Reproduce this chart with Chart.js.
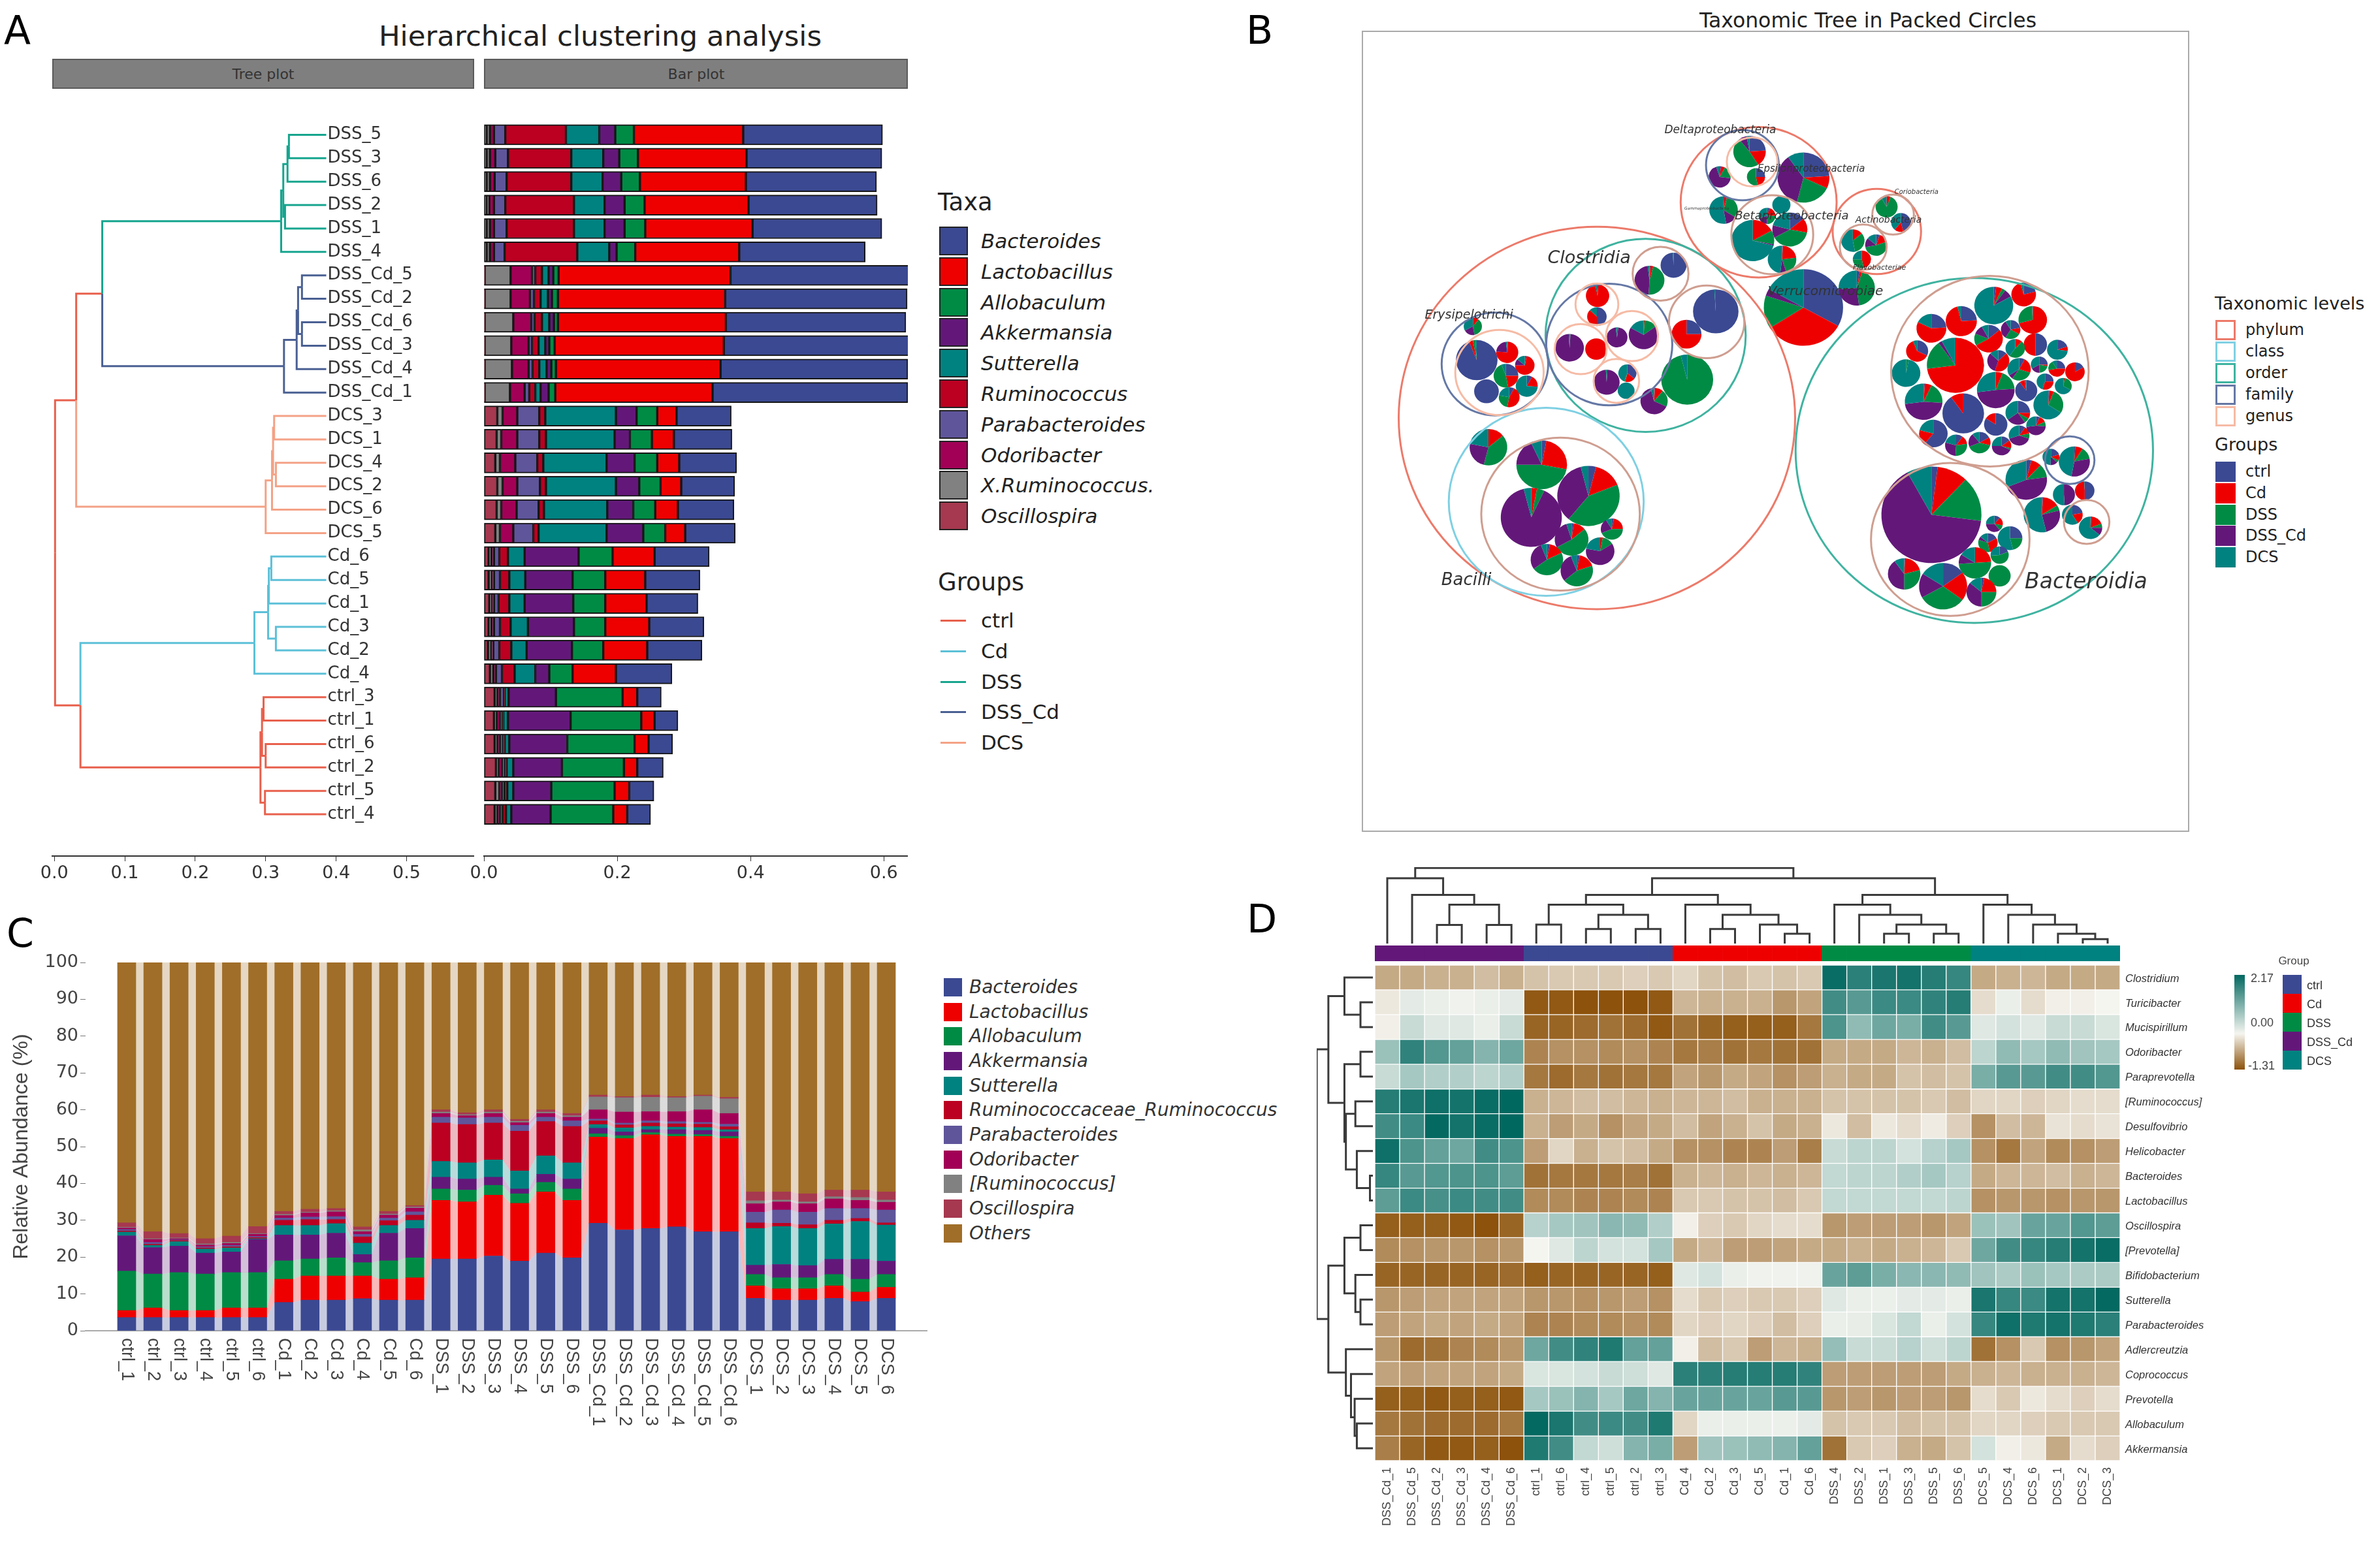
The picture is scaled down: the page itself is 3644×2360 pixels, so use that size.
<!DOCTYPE html>
<html>
<head>
<meta charset="utf-8">
<title>Microbiome figure</title>
<script src="https://cdn.jsdelivr.net/npm/chart.js@4"></script>
<style>
  html, body { margin: 0; padding: 0; background: #fff; }
  #page { position: relative; width: 3644px; height: 2360px; overflow: hidden; font-family: "DejaVu Sans", sans-serif; }
  canvas { position: absolute; }
  .txt { position: absolute; white-space: nowrap; line-height: 1; transform: translateY(-50%); color: #222; }
  .box { position: absolute; box-sizing: border-box; }
</style>
</head>
<body>
<div id="page"></div>
<script>
// ---------- panel A data ----------
const aRows = ["DSS_5","DSS_3","DSS_6","DSS_2","DSS_1","DSS_4","DSS_Cd_5","DSS_Cd_2","DSS_Cd_6","DSS_Cd_3","DSS_Cd_4","DSS_Cd_1",
  "DCS_3","DCS_1","DCS_4","DCS_2","DCS_6","DCS_5","Cd_6","Cd_5","Cd_1","Cd_3","Cd_2","Cd_4","ctrl_3","ctrl_1","ctrl_6","ctrl_2","ctrl_5","ctrl_4"];
// left to right stack order
const aStackTaxa = ["Oscillospira","X.Ruminococcus.","Odoribacter","Parabacteroides","Ruminococcus","Sutterella","Akkermansia","Allobaculum","Lactobacillus","Bacteroides"];
const aBarsDss = [
  [.004,.005,.006,.017,.091,.050,.024,.028,.164,.209],
  [.004,.005,.008,.019,.095,.048,.024,.028,.163,.203],
  [.004,.005,.007,.018,.097,.047,.028,.028,.159,.196],
  [.004,.004,.007,.017,.103,.046,.030,.030,.156,.193],
  [.004,.005,.006,.019,.101,.046,.030,.031,.161,.194],
  [.004,.005,.006,.016,.109,.048,.011,.028,.156,.189]];
const aBarsDssCd = [
  [.001,.039,.032,.005,.010,.010,.007,.008,.258,.268],
  [.001,.039,.029,.006,.010,.011,.006,.009,.251,.273],
  [.001,.043,.027,.005,.011,.011,.007,.006,.252,.270],
  [.001,.040,.026,.005,.010,.010,.006,.008,.254,.279],
  [.001,.041,.025,.006,.010,.011,.007,.007,.247,.281],
  [.001,.038,.022,.007,.009,.008,.012,.010,.236,.293]];
const aBarsDcs = [
  [.020,.008,.022,.033,.009,.106,.031,.031,.029,.082],
  [.019,.007,.024,.033,.010,.103,.023,.033,.033,.087],
  [.017,.007,.023,.033,.009,.095,.042,.034,.033,.086],
  [.020,.008,.022,.034,.009,.105,.035,.032,.031,.080],
  [.019,.007,.023,.033,.008,.095,.039,.033,.034,.084],
  [.017,.007,.020,.030,.008,.102,.055,.033,.030,.075]];
const aBarsCd = [
  [.007,.004,.004,.008,.013,.025,.081,.051,.063,.082],
  [.007,.005,.003,.009,.014,.024,.071,.049,.060,.082],
  [.008,.004,.003,.007,.016,.023,.073,.048,.062,.077],
  [.007,.004,.004,.009,.016,.026,.069,.047,.066,.082],
  [.006,.005,.003,.009,.018,.023,.068,.047,.066,.082],
  [.009,.005,.004,.009,.019,.031,.021,.035,.065,.084]];
const aBarsCtrl = [
  [.016,.004,.004,.006,.001,.006,.071,.100,.022,.036],
  [.015,.004,.005,.004,.001,.007,.094,.106,.020,.035],
  [.016,.004,.004,.005,.002,.007,.087,.101,.021,.036],
  [.018,.004,.005,.005,.002,.010,.073,.093,.020,.039],
  [.017,.006,.004,.004,.004,.009,.057,.095,.022,.037],
  [.016,.004,.004,.004,.005,.008,.059,.094,.021,.035]];
// tree nodes: height, top row, bottom row, top child height, bottom child height, top group, bottom group
const treeNodes = [
  [.333,0,1,.386,.386,2,2],[.331,.5,2,.333,.386,2,2],[.3275,3,4,.386,.386,2,2],[.325,1.25,3.5,.331,.3275,2,2],[.322,2.375,5,.325,.386,2,2],
  [.3515,6,7,.386,.386,3,3],[.3515,8,9,.386,.386,3,3],[.346,6.5,8.5,.3515,.3515,3,3],[.344,7.5,10,.346,.386,3,3],[.326,8.75,11,.344,.386,3,3],
  [.068,3.69,9.875,.322,.326,2,3],
  [.312,12,13,.386,.386,4,4],[.3145,14,15,.386,.386,4,4],[.3105,12.5,14.5,.312,.3145,4,4],[.309,13.5,16,.3105,.386,4,4],[.300,14.75,17,.309,.386,4,4],
  [.031,6.78,15.875,.068,.300,0,4],
  [.308,18,19,.386,.386,1,1],[.3045,18.5,20,.308,.386,1,1],[.3145,21,22,.386,.386,1,1],[.3035,19.25,21.5,.3045,.3145,1,1],[.284,20.375,23,.3035,.386,1,1],
  [.297,24,25,.386,.386,0,0],[.300,26,27,.386,.386,0,0],[.2948,24.5,26.5,.297,.300,0,0],[.299,28,29,.386,.386,0,0],[.2926,25.5,28.5,.2948,.299,0,0],
  [.037,21.69,27,.284,.2926,1,0],
  [.001,11.33,24.35,.031,.037,0,0]];
const treeTicks = [0,.1,.2,.3,.4,.5];
const barTicks = [0,.2,.4,.6];
const aTaxaLegend = ["Bacteroides","Lactobacillus","Allobaculum","Akkermansia","Sutterella","Ruminococcus","Parabacteroides","Odoribacter","X.Ruminococcus.","Oscillospira"];
const groupNames = ["ctrl","Cd","DSS","DSS_Cd","DCS"];

// ---------- panel B data ----------
const pieU = [877,914,926,973,1019,1033,877,923,965,999,1037,1071,855,838,865,976,980,1006,1012,1043,1070,1098,1023,1052,1080,1057,1010,976,880,1012,1038,915,951,985,1061,1097,1023,1047,1081,1113,1094,1122,974,998,964,982,982,944,835,895,954,
  177,224,251,222,254,192,227,171,480,443,363,362,320,361,393,434,377,409,407,450,545,500,501,195,277,349,261,323,385,367,285,331,
  597,607,551,680,557,646,624,659,602,647,680,762,808,830,756,792,770];
const pieV = [745,515,589,423,406,445,458,447,474,460,483,491,493,527,571,553,508,489,521,514,520,525,554,540,547,576,588,606,620,623,608,638,634,639,656,663,691,745,714,708,745,765,759,781,788,807,839,819,836,855,864,
  507,495,515,531,547,555,564,455,361,384,408,440,488,490,472,468,541,527,554,570,432,467,537,641,668,716,749,783,767,801,814,831,
  186,225,225,226,276,268,285,306,323,352,426,396,271,295,323,330,352];
const pieR = [77,44,32,30,19,22,23,24,22,15,18,16,17,22,29,29,17,15,18,13,13,15,17,13,13,23,19,18,22,16,15,17,17,15,13,24,32,28,17,15,16,18,13,19,15,14,17,25,25,37,23,
  32,17,15,19,17,19,16,14,20,23,18,15,22,17,16,23,20,14,13,21,35,23,40,29,39,48,47,26,17,22,25,25,
  25,14,17,40,22,14,13,27,33,22,61,28,17,15,18,17,14];
// percent of ctrl, Cd, DSS, DSS_Cd, DCS
const pieShares = [
  [2,10,15,65,8],[0,73,17,2,8],[90,10,0,0,0],[2,5,3,7,83],[21,75,0,0,4],[0,71,28,0,1],[24,58,0,0,18],[24,72,0,0,4],[14,53,14,11,8],[22,11,26,32,9],
  [50,50,0,0,0],[20,7,0,0,73],[32,62,0,0,6],[0,0,3,0,97],[1,6,19,47,27],[0,6,18,49,27],[13,42,0,32,13],[0,12,48,0,40],[8,22,30,6,34],[25,3,22,17,33],
  [25,47,19,0,9],[17,83,0,0,0],[90,8,0,0,2],[25,30,0,0,45],[1,2,30,0,67],[1,5,28,0,66],[25,8,7,25,35],[84,16,0,0,0],[61,18,0,0,21],[10,12,8,40,30],
  [6,12,8,47,27],[10,13,28,28,21],[17,12,40,20,11],[15,14,3,43,25],[20,12,5,14,49],[1,8,13,31,47],[4,8,11,46,31],[1,15,5,25,54],[0,0,0,49,51],[50,49,0,0,1],
  [22,19,0,0,59],[1,18,6,11,64],[11,17,11,36,25],[25,0,21,0,54],[17,30,33,6,14],[19,0,55,0,26],[0,0,100,0,0],[0,24,50,10,16],[1,20,29,40,10],[15,20,32,17,16],[3,22,25,36,14],
  [94,3,2,0,1],[1,75,0,22,2],[3,72,0,11,14],[25,22,47,0,6],[8,18,0,0,74],[100,0,0,0,0],[8,45,25,0,22],[1,10,36,20,33],[99,0,0,0,1],[1,3,47,47,2],
  [1,96,0,0,3],[50,37,0,0,13],[0,0,1,98,1],[0,100,0,0,0],[0,0,2,96,2],[0,1,14,68,17],[0,0,1,98,1],[36,18,2,0,44],[0,0,0,0,100],[1,10,21,64,4],[99,0,0,0,1],[25,75,0,0,0],[0,0,96,0,4],
  [0,14,40,24,22],[3,25,47,18,7],[4,15,42,35,4],[0,3,4,89,4],[2,12,53,28,5],[3,22,44,22,9],[0,3,13,62,22],[3,15,47,29,6],[3,17,44,30,6],
  [24,17,48,8,3],[25,22,53,0,0],[2,6,19,68,5],[24,8,22,36,10],[1,3,30,13,53],[0,0,0,0,100],[5,20,25,20,30],[14,14,39,12,21],[0,17,11,1,71],[1,22,22,7,48],[33,33,14,3,17],[3,2,43,26,26],
  [0,6,86,0,8],[46,15,0,0,39],[0,14,33,0,53],[5,15,52,14,14],[0,47,28,0,25]];
const ringU = [362,437,284,306,205,212,381,362,337,416,392,460,531,943,967,906,1090,1116,611,586,601,632,793,818,772];
const ringV = [596,469,725,744,513,526,483,421,490,470,539,374,448,646,524,783,661,756,264,207,202,314,309,283,333];
const ringR = [305,154,150,122,82,68,97,33,40,40,35,43,58,275,152,122,38,35,120,56,39,63,68,32,36];
// 0 phylum, 1 class, 2 order, 3 family, 4 genus, 5 genus sitting on an order
const ringLevel = [0,2,1,5,3,4,3,4,4,4,4,5,5,2,5,5,3,5,0,3,4,5,0,5,5];
const taxonNames = ["Clostridia","Erysipelotrichi","Bacilli","Bacteroidia","Verrucomicrobiae","Deltaproteobacteria","Epsilonproteobacteria","Betaproteobacteria","Actinobacteria","Coriobacteria","Gammaproteobacteria","Flavobacteriae"];
const taxonU = [350,165,161,1115,714,552,692,662,811,854,531,797];
const taxonV = [351,438,846,850,402,153,213,286,292,249,274,365];
const levelNames = ["phylum","class","order","family","genus"];

// ---------- panel C data ----------
const cSamples = ["ctrl_1","ctrl_2","ctrl_3","ctrl_4","ctrl_5","ctrl_6","Cd_1","Cd_2","Cd_3","Cd_4","Cd_5","Cd_6","DSS_1","DSS_2","DSS_3","DSS_4","DSS_5","DSS_6",
  "DSS_Cd_1","DSS_Cd_2","DSS_Cd_3","DSS_Cd_4","DSS_Cd_5","DSS_Cd_6","DCS_1","DCS_2","DCS_3","DCS_4","DCS_5","DCS_6"];
const cTaxa = ["Bacteroides","Lactobacillus","Allobaculum","Akkermansia","Sutterella","Ruminococcaceae_Ruminococcus","Parabacteroides","Odoribacter","[Ruminococcus]","Oscillospira","Others"];
const cCtrl = [
  [3.6,1.9,10.7,9.6,1.0,.3,.4,.4,.2,1.2,70.7],
  [3.6,2.6,9.2,7.2,.6,.3,.5,.8,.2,1.9,73.1],
  [3.6,1.9,10.3,7.2,1.2,.3,.2,.3,.2,1.2,73.6],
  [3.6,1.9,9.9,5.7,1.1,.3,.3,.5,.3,1.4,75],
  [3.6,2.6,9.6,5.6,1.1,.3,.4,.5,.3,1.7,74.3],
  [3.6,2.6,9.6,9,.2,.3,.3,.6,.2,1.9,71.7]];
const cCd = [
  [7.7,6.3,5,7,2.6,1.4,.6,.7,.3,.8,67.6],
  [8.3,6.6,4.6,6.5,2.6,1.6,.7,1.1,.2,.8,67],
  [8.3,6.6,4.9,6.7,2.6,1.1,.8,1.3,.3,.6,66.8],
  [8.7,6.2,3.6,2.2,3.1,1.7,.7,.7,.5,.8,71.8],
  [8.3,5.7,5,7.5,2.1,1.3,.7,.8,.3,.7,67.6],
  [8.3,6.1,5.4,8,2.2,1.4,.9,1,.3,.4,66]];
const cDss = [
  [19.5,15.9,3.1,3.2,4.3,10.4,1.6,1,.4,.6,40],
  [19.5,15.5,3.2,3,4.4,10.4,1.8,.6,.3,.5,40.8],
  [20.3,16.5,2.7,2.2,4.7,10,1.6,1,.4,.6,40],
  [18.9,15.7,2.6,1.3,4.9,10.8,1.6,.7,.4,.5,42.6],
  [21.1,16.6,2.6,2.2,5,9.3,1.2,1,.4,.6,40],
  [19.8,15.6,3.1,2.7,4.4,9.9,1.5,1,.4,.6,41]];
const cDssCd = [
  [29.2,23.4,.9,1.5,1,1,.5,2.5,3.5,.5,36],
  [27.4,24.8,.8,1,1.1,.8,.5,3,3.9,.3,36.4],
  [27.8,25.4,.6,.8,.9,.9,.6,2.5,3.9,.6,36],
  [28.2,24.6,.6,1.2,.7,.9,.6,2.7,3.8,.3,36.4],
  [26.9,25.9,.5,1.1,.8,.9,.5,3.4,3.7,.3,36],
  [26.9,25.3,.6,1.2,.6,.8,.7,2.9,4,.4,36.6]];
const cDcs = [
  [8.8,3.4,3.1,2.5,10,1.5,2.9,2.3,.8,2.4,62.3],
  [8.3,3.1,3,3.6,10.3,.9,3.6,2.2,.5,2.2,62.3],
  [8.3,3.1,3,3.3,10.1,1,3.4,2.3,.5,2.2,62.8],
  [8.8,3.4,3.1,4.1,9.6,1,3.2,2.6,.6,1.8,61.8],
  [7.9,2.6,3.5,5.4,10.3,.8,2.7,2.2,.8,2,61.8],
  [8.8,3,3.5,3.6,9.8,.6,3.5,2.1,.6,2.2,62.3]];
const cTicks = [0,10,20,30,40,50,60,70,80,90,100];

// ---------- panel D data ----------
const dCols = ["DSS_Cd_1","DSS_Cd_5","DSS_Cd_2","DSS_Cd_3","DSS_Cd_4","DSS_Cd_6","ctrl_1","ctrl_6","ctrl_4","ctrl_5","ctrl_2","ctrl_3","Cd_4","Cd_2","Cd_3","Cd_5","Cd_1","Cd_6",
  "DSS_4","DSS_2","DSS_1","DSS_3","DSS_5","DSS_6","DCS_5","DCS_4","DCS_6","DCS_1","DCS_2","DCS_3"];
const dColGroup = [3,3,3,3,3,3,0,0,0,0,0,0,1,1,1,1,1,1,2,2,2,2,2,2,4,4,4,4,4,4];
const dRows = ["Clostridium","Turicibacter","Mucispirillum","Odoribacter","Paraprevotella","[Ruminococcus]","Desulfovibrio","Helicobacter","Bacteroides","Lactobacillus",
  "Oscillospira","[Prevotella]","Bifidobacterium","Sutterella","Parabacteroides","Adlercreutzia","Coprococcus","Prevotella","Allobaculum","Akkermansia"];
const heatTop = [
  [-.6,-.6,-.55,-.55,-.45,-.55,-.4,-.35,-.35,-.35,-.3,-.35,-.25,-.4,-.45,-.35,-.4,-.35,2.1,1.8,1.95,2.0,1.85,1.7,-.6,-.55,-.5,-.6,-.6,-.6],
  [-.1,.15,.1,.05,.1,.15,-1.25,-1.25,-1.3,-1.3,-1.3,-1.25,-.5,-.55,-.55,-.55,-.75,-.65,1.6,1.4,1.65,1.65,1.75,1.85,-.2,.1,-.2,-.05,-.05,0],
  [-.05,.4,.2,.2,.1,.4,-1.15,-1.15,-1.1,-1.05,-1.1,-1.25,-1.05,-1.15,-1.2,-1.2,-1.2,-1,1.5,.9,1.2,1.1,1.6,1.4,.2,.3,.2,.4,.4,.25],
  [.8,1.75,1.45,1.3,1,1.2,-.9,-.8,-.8,-.85,-.8,-.9,-1,-.95,-1.05,-1,-1.05,-1.05,-.6,-.6,-.6,-.5,-.55,-.45,.5,.9,.7,.9,.75,.7],
  [.4,.7,.6,.6,.5,.6,-1,-1.1,-1,-1.05,-1,-1,-.65,-.75,-.6,-.65,-.8,-.7,-.55,-.6,-.6,-.4,-.45,-.4,1.1,1.4,1.4,1.6,1.6,1.45],
  [1.85,1.95,2.05,2,2.1,2.17,-.55,-.5,-.45,-.45,-.5,-.55,-.5,-.5,-.45,-.55,-.55,-.55,-.4,-.4,-.4,-.4,-.35,-.45,-.25,-.25,-.3,-.25,-.2,-.2],
  [1.6,1.65,2.15,2,2.1,2.17,-.55,-.7,-.6,-.8,-.65,-.6,-.45,-.65,-.55,-.4,-.6,-.55,-.1,-.45,-.1,-.2,-.08,-.3,-.8,-.45,-.5,-.15,-.2,-.15],
  [2.05,1.5,1.3,1.2,1.6,1.5,-.7,-.25,-.55,-.4,-.45,-.6,-.8,-.8,-.9,-.9,-.7,-.95,.4,.5,.5,.3,.55,.7,-.8,-1,-.65,-.85,-.8,-.7],
  [1.7,1.4,1.45,1.5,1.5,1.35,-1.05,-1,-1,-1,-.95,-1.05,-.55,-.5,-.55,-.5,-.55,-.5,.45,.5,.5,.6,.7,.55,-.6,-.5,-.5,-.45,-.55,-.5],
  [1.35,1.65,1.55,1.65,1.6,1.6,-.85,-.85,-.9,-.9,-.85,-.9,-.35,-.35,-.4,-.4,-.45,-.35,.45,.45,.45,.45,.45,.5,-.8,-.75,-.75,-.8,-.75,-.75]];
const heatBottom = [
  [-1.2,-1.2,-1.2,-1.25,-1.3,-1.15,.55,.7,.75,.95,.9,.6,-.05,-.3,-.35,-.25,-.2,-.2,-.75,-.7,-.7,-.7,-.75,-.65,.8,.75,1.25,1.25,1.45,1.35],
  [-.85,-.8,-.75,-.75,-.8,-.75,0,.2,.5,.3,.3,.7,-.6,-.5,-.7,-.7,-.65,-.6,-.6,-.55,-.6,-.55,-.5,-.35,1.2,1.6,1.7,1.85,2,2.1],
  [-1.15,-1.15,-1.15,-1.15,-1.15,-1.1,-1.2,-1.15,-1.15,-1.15,-1.15,-1.2,.2,.3,.1,.05,.05,.05,1.25,1.35,1.1,.95,.95,.9,.75,.65,.8,.7,.65,.65],
  [-.75,-.7,-.65,-.65,-.65,-.65,-.75,-.75,-.8,-.75,-.7,-.8,-.2,-.35,-.3,-.35,-.35,-.3,.2,.1,.08,.15,.15,.1,1.95,1.7,1.65,2,2,2.15],
  [-.7,-.65,-.6,-.65,-.6,-.65,-.9,-.9,-.85,-.85,-.8,-.85,-.25,-.3,-.25,-.3,-.45,-.3,.1,.12,.25,.45,.1,.3,1.7,2.05,1.9,2,1.9,1.8],
  [-.75,-1.1,-1.05,-.9,-.85,-.75,1.2,1.6,1.75,1.9,1.3,1.3,-.05,-.45,-.35,-.7,-.5,-.55,.85,.4,.4,.55,.35,.5,-1.05,-.8,-.35,-.8,-.75,-.65],
  [-.65,-.7,-.65,-.65,-.65,-.6,.25,.25,.3,.4,.35,.2,1.8,1.8,1.85,1.85,1.85,1.75,-.7,-.7,-.7,-.7,-.7,-.6,-.55,-.5,-.55,-.55,-.55,-.5],
  [-1.2,-1.2,-1.25,-1.2,-1.2,-1.25,.7,.8,1,.7,1.2,1,1.25,1.25,1.25,1.25,1.4,1.4,-.75,-.7,-.75,-.7,-.7,-.75,-.2,-.35,-.1,-.2,-.3,-.2],
  [-1,-1.05,-1.1,-1.1,-1.1,-1,2.15,1.95,1.6,1.65,1.6,1.9,-.25,.1,.1,.1,.08,.15,-.4,-.35,-.35,-.45,-.4,-.4,-.25,-.25,-.3,-.35,-.35,-.35],
  [-.95,-1.15,-1.25,-1.25,-1.2,-1.3,1.9,1.6,.45,.35,1,1.1,-.7,.75,.8,.9,1,1.3,-1.05,-.35,-.3,-.55,-.6,-.4,.3,-.05,-.1,-.6,-.2,-.3]];
// merges: left pos, left height, right pos, right height, height
const colMerges = [
  [2.5,0,3.5,0,4.2],[4.5,0,5.5,0,4.2],[3,4.2,5,4.2,8.8],[1.5,0,4,8.8,11],[.5,0,2.75,11,14.8],
  [6.5,0,7.5,0,4.3],[8.5,0,9.5,0,3.3],[10.5,0,11.5,0,3.3],[9,3.3,11,3.3,6.5],[7,4.3,10,6.5,8.8],
  [13.5,0,14.5,0,3.3],[16.5,0,17.5,0,2.2],[15.5,0,17,2.2,4.3],[14,3.3,16.25,4.3,6.5],[12.5,0,15.125,6.5,8.8],[8.5,8.8,13.81,8.8,11],
  [20.5,0,21.5,0,2.2],[22.5,0,23.5,0,2.2],[21,2.2,23,2.2,4.3],[19.5,0,22,4.3,6.5],[18.5,0,20.75,6.5,8.8],
  [28.5,0,29.5,0,1],[27.5,0,29,1,2.2],[26.5,0,28.25,2.2,4.3],[25.5,0,27.38,4.3,6.5],[24.5,0,26.44,6.5,8.8],
  [19.63,8.8,25.47,8.8,11],[11.16,11,22.55,11,14.8],[1.625,14.8,16.85,14.8,17.1]];
const rowMerges = [
  [1.5,0,2.5,0,1.7],[.5,0,2,1.7,3.9],[3.5,0,4.5,0,1.7],[5.5,0,6.5,0,2.4],[8.5,0,9.5,0,.4],[7.5,0,9,.4,2.2],[6,2.4,8.25,2.2,3.7],[4,1.7,7.125,3.7,3.9],[1.25,3.9,5.56,3.9,6.1],
  [10.5,0,11.5,0,1.7],[13.5,0,14.5,0,1.7],[12.5,0,14,1.7,2.4],[11,1.7,13.25,2.4,3.9],[18.5,0,19.5,0,2.2],[17.5,0,19,2.2,2.5],[16.5,0,18.25,2.5,3],[15.5,0,17.375,3,3.7],[12.125,3.9,16.44,3.7,6.1],
  [3.4,6.1,14.28,6.1,7.7]];

// ---------- colours ----------
const taxaColor = {
  "Bacteroides":"#3B4992","Lactobacillus":"#EE0000","Allobaculum":"#008B45","Akkermansia":"#631879","Sutterella":"#008280",
  "Ruminococcus":"#BB0021","Ruminococcaceae_Ruminococcus":"#BB0021","Parabacteroides":"#5F559B","Odoribacter":"#A20056",
  "X.Ruminococcus.":"#808180","[Ruminococcus]":"#808180","Oscillospira":"#A6384F","Others":"#A06E28"};
const treeColor = ["#E8604C","#5CC0D8","#16A58E","#4A6093","#F4A286"];
const pieColor = ["#3B4992","#EE0000","#008B45","#631879","#008280"];
const ringColor = ["#EC7A6A","#7FD0E3","#3FB3A0","#6578A5","#F6BBA5","#CF9E90"];

const page = document.getElementById("page");
const FONT = '"DejaVu Sans"';

function addText(text, x, y, size, opts) {
  opts = opts || {};
  const el = document.createElement("div");
  el.className = "txt";
  el.textContent = text;
  el.style.left = x + "px";
  el.style.top = y + "px";
  el.style.fontSize = size + "px";
  el.style.fontFamily = opts.family || FONT;
  if (opts.italic) el.style.fontStyle = "italic";
  if (opts.color) el.style.color = opts.color;
  if (opts.center) el.style.transform = "translate(-50%,-50%)";
  page.appendChild(el);
}
function addBox(x, y, w, h, fill, border, bw) {
  const el = document.createElement("div");
  el.className = "box";
  el.style.cssText = `left:${x}px;top:${y}px;width:${w}px;height:${h}px;background:${fill};border:${bw || 0}px solid ${border || "transparent"}`;
  page.appendChild(el);
  return el;
}
function makeCtx(left, top, w, h) {
  const c = document.createElement("canvas");
  c.width = w; c.height = h;
  c.style.left = left + "px"; c.style.top = top + "px";
  c.style.width = w + "px"; c.style.height = h + "px";
  page.appendChild(c);
  return c.getContext("2d");
}
function chartOptions(padding, rest) {
  return Object.assign({
    responsive: false, animation: false, devicePixelRatio: 1, events: [],
    layout: { autoPadding: false, padding: padding },
    plugins: { legend: { display: false }, tooltip: { enabled: false } }
  }, rest);
}
function indices(n) { const a = []; for (let i = 0; i < n; i++) a.push(i); return a; }
function hexMix(a, b, t) {
  const pa = [1,3,5].map(i => parseInt(a.substr(i,2),16));
  const pb = [1,3,5].map(i => parseInt(b.substr(i,2),16));
  return "rgb(" + pa.map((v,i) => Math.round(v + (pb[i]-v)*t)).join(",") + ")";
}
function hexToAlpha(hex, al) {
  return "rgba(" + [1,3,5].map(i => parseInt(hex.substr(i,2),16)).join(",") + "," + al + ")";
}
function heatColor(v) {
  if (v < 0) return hexMix("#F5F5F0", "#8C5109", Math.min(1, -v/1.31));
  return hexMix("#F5F5F0", "#016860", Math.min(1, v/2.17));
}

// ---------- text of panel A ----------
addText("A", 6, 46, 60, {color:"#000"});
addText("Hierarchical clustering analysis", 919, 56, 43.5, {center:true});
addBox(80, 90, 646, 46, "#7F7F7F", "#5A5A5A", 2);
addBox(741, 90, 649, 46, "#7F7F7F", "#5A5A5A", 2);
addText("Tree plot", 403, 114, 22, {center:true, color:"#333"});
addText("Bar plot", 1066, 114, 22, {center:true, color:"#333"});
addText("Taxa", 1436, 309, 37);
aTaxaLegend.forEach((t,i) => {
  addBox(1438, 347 + i*46.8, 44, 44, taxaColor[t], "#222", 2);
  addText(t, 1502, 369 + i*46.8, 31, {italic:true});
});
addText("Groups", 1436, 891, 37);
groupNames.forEach((g,i) => {
  addBox(1440, 949 + i*46.8, 39, 3, treeColor[i]);
  addText(g, 1502, 950 + i*46.8, 31);
});

// ---------- tree plot ----------
const treeDatasets = [];
treeNodes.forEach(n => {
  const mid = (n[1]+n[2])/2;
  treeDatasets.push({ data:[{x:n[3],y:n[1]},{x:n[0],y:n[1]},{x:n[0],y:mid}], borderColor:treeColor[n[5]] });
  treeDatasets.push({ data:[{x:n[0],y:mid},{x:n[0],y:n[2]},{x:n[4],y:n[2]}], borderColor:treeColor[n[6]] });
});
treeDatasets.forEach(d => { d.borderWidth = 3; d.pointRadius = 0; d.showLine = true; d.clip = false; });
function tickedAxis(ticks, min, max) {
  return {
    type:"linear", min:min, max:max,
    afterBuildTicks: s => { s.ticks = ticks.map(v => ({value:v})); },
    afterFit: s => { s.height = 60; },
    border:{display:true, color:"#333", width:2},
    grid:{drawOnChartArea:false, drawTicks:true, tickLength:8, color:"#333"},
    ticks:{ callback:v => v.toFixed(1), font:{family:FONT, size:27}, color:"#333", maxRotation:0, autoSkip:false }
  };
}
new Chart(makeCtx(50, 149, 676, 1222), {
  type:"scatter",
  data:{ datasets:treeDatasets },
  options:chartOptions({left:30}, {
    scales:{
      x:tickedAxis(treeTicks, -.003, .596),
      y:{ type:"linear", display:false, reverse:true, min:-1.6, max:30.78 }
    }
  }),
  plugins:[{ id:"leafLabels", afterDraw(chart) {
    const ctx = chart.ctx;
    ctx.save();
    ctx.font = "26px " + FONT; ctx.fillStyle = "#333"; ctx.textBaseline = "middle"; ctx.textAlign = "left";
    aRows.forEach((name,i) => ctx.fillText(name, chart.scales.x.getPixelForValue(.386) + 2, chart.scales.y.getPixelForValue(i)));
    ctx.restore();
  }}]
});

// ---------- bar plot ----------
const aAllRows = [...aBarsDss, ...aBarsDssCd, ...aBarsDcs, ...aBarsCd, ...aBarsCtrl];
new Chart(makeCtx(711, 149, 679, 1222), {
  type:"bar",
  data:{
    labels:indices(aRows.length),
    datasets:aStackTaxa.map((t,k) => ({
      label:t, data:aAllRows.map(r => r[k]), backgroundColor:taxaColor[t],
      borderColor:"#161616", borderWidth:2, borderSkipped:false, barThickness:31, stack:"a"
    }))
  },
  options:chartOptions({left:30}, {
    indexAxis:"y",
    scales:{
      x:Object.assign(tickedAxis(barTicks, 0, .636), {stacked:true}),
      y:{ type:"linear", offset:false, display:false, reverse:true, min:-1.6, max:30.78, stacked:true }
    }
  })
});

// ---------- panel B ----------
addText("B", 1908, 46, 60, {color:"#000"});
addText("Taxonomic Tree in Packed Circles", 2860, 32, 31.5, {center:true});
addBox(2085, 47, 1267, 1227, "transparent", "#AAAAAA", 2);
addText("Taxonomic levels", 3391, 464, 27);
levelNames.forEach((l,i) => {
  addBox(3392, 490 + i*33, 31, 31, "#FFFFFF", ringColor[i], 3);
  addText(l, 3438, 505 + i*33, 24);
});
addText("Groups", 3391, 680, 27);
groupNames.forEach((g,i) => {
  addBox(3392, 707 + i*32.8, 31, 31, pieColor[i]);
  addText(g, 3438, 722 + i*32.8, 24);
});
const taxonSize = [27,19,26,33,20,17,15,18,14,10,6,11];
const circleSquash = .965; // the source picture is a little wider than tall
new Chart(makeCtx(2085, 47, 1267, 1227), {
  type:"bubble",
  data:{ datasets:[
    { data:ringU.map((u,i) => ({x:u, y:ringV[i], r:ringR[i]*.995})), backgroundColor:"transparent", borderWidth:0, clip:false },
    { data:pieU.map((u,i) => ({x:u, y:pieV[i], r:pieR[i]*.995})), backgroundColor:"transparent", borderWidth:0, clip:false }
  ]},
  options:chartOptions(0, {
    scales:{
      x:{ type:"linear", display:false, min:0, max:1274 },
      y:{ type:"linear", display:false, min:0, max:1233, reverse:true }
    }
  }),
  plugins:[{ id:"pieSlices", afterDatasetsDraw(chart) {
    const ctx = chart.ctx;
    chart.getDatasetMeta(1).data.forEach((el,i) => {
      const r = el.options.radius;
      let a = -Math.PI/2;
      pieShares[i].forEach((share,k) => {
        if (!share) return;
        const end = a + share/100*Math.PI*2;
        ctx.beginPath(); ctx.moveTo(el.x, el.y); ctx.ellipse(el.x, el.y, r, r*circleSquash, 0, a, end); ctx.closePath();
        ctx.fillStyle = pieColor[k]; ctx.fill();
        a = end;
      });
    });
    ctx.lineWidth = 3;
    chart.getDatasetMeta(0).data.forEach((el,i) => {
      const r = el.options.radius;
      ctx.beginPath(); ctx.ellipse(el.x, el.y, r, r*circleSquash, 0, 0, Math.PI*2);
      ctx.strokeStyle = ringColor[ringLevel[i]]; ctx.stroke();
    });
  }, afterDraw(chart) {
    const ctx = chart.ctx;
    ctx.save();
    ctx.textAlign = "center"; ctx.textBaseline = "middle"; ctx.fillStyle = "#333";
    taxonNames.forEach((t,i) => {
      ctx.font = "italic " + taxonSize[i] + "px " + FONT;
      ctx.fillText(t, chart.scales.x.getPixelForValue(taxonU[i]), chart.scales.y.getPixelForValue(taxonV[i]));
    });
    ctx.restore();
  }}]
});

// ---------- panel C ----------
addText("C", 10, 1429, 60, {color:"#000"});
cTaxa.forEach((t,i) => {
  addBox(1445, 1498 + i*37.66, 28, 28, taxaColor[t]);
  addText(t, 1484, 1512 + i*37.66, 28, {italic:true, color:"#333"});
});
const cAll = [...cCtrl, ...cCd, ...cDss, ...cDssCd, ...cDcs];
new Chart(makeCtx(14, 1454, 1406, 744), {
  type:"bar",
  data:{
    labels:indices(cSamples.length),
    datasets:cTaxa.map((t,k) => ({
      label:t, data:cAll.map(r => r[k]), backgroundColor:taxaColor[t], barThickness:28, stack:"c"
    }))
  },
  options:chartOptions({top:20, bottom:150}, {
    scales:{
      x:{ type:"linear", offset:false, stacked:true, min:-1.57, max:30.57, afterFit:s => { s.height = 10; },
        border:{display:true, color:"#AAAAAA", width:2}, grid:{display:false}, ticks:{display:false} },
      y:{ type:"linear", stacked:true, min:0, max:100, afterFit:s => { s.width = 117; },
        afterBuildTicks:s => { s.ticks = cTicks.map(v => ({value:v})); },
        border:{display:false}, grid:{drawOnChartArea:false, tickLength:8, color:"#777"},
        title:{display:true, text:"Relative Abundance (%)", font:{family:'"Liberation Sans"', size:32}, color:"#444", padding:{top:0,bottom:0}},
        ticks:{font:{family:FONT, size:27}, color:"#444", autoSkip:false} }
    }
  }),
  plugins:[{ id:"connectors", beforeDatasetsDraw(chart) {
    const ctx = chart.ctx;
    chart.data.datasets.forEach((ds,k) => {
      const bars = chart.getDatasetMeta(k).data;
      ctx.fillStyle = hexToAlpha(ds.backgroundColor, .28);
      for (let i = 0; i + 1 < bars.length; i++) {
        const a = bars[i], b = bars[i+1];
        ctx.beginPath();
        ctx.moveTo(a.x + a.width/2, a.y); ctx.lineTo(b.x - b.width/2, b.y);
        ctx.lineTo(b.x - b.width/2, b.base); ctx.lineTo(a.x + a.width/2, a.base);
        ctx.closePath(); ctx.fill();
      }
    });
  }, afterDraw(chart) {
    const ctx = chart.ctx;
    const top = chart.scales.y.getPixelForValue(0) + 11;
    ctx.save();
    ctx.font = '27px "Liberation Sans"'; ctx.fillStyle = "#444"; ctx.textBaseline = "middle"; ctx.textAlign = "left";
    cSamples.forEach((s,i) => {
      ctx.save();
      ctx.translate(chart.scales.x.getPixelForValue(i), top);
      ctx.rotate(Math.PI/2);
      ctx.fillText(s, 0, 0);
      ctx.restore();
    });
    ctx.restore();
  }}]
});

// ---------- panel D ----------
addText("D", 1909, 1407, 60, {color:"#000"});
function mergeDatasets(merges, horizontal) {
  return merges.map(m => {
    const pts = [[m[0],m[1]],[m[0],m[4]],[m[2],m[4]],[m[2],m[3]]];
    return { data:pts.map(p => horizontal ? {x:p[0],y:p[1]} : {x:p[1],y:p[0]}),
      borderColor:"#3A3A3A", borderWidth:3, pointRadius:0, showLine:true, clip:false };
  });
}
new Chart(makeCtx(2105, 1328, 1141, 117), {
  type:"scatter",
  data:{ datasets:mergeDatasets(colMerges, true) },
  options:chartOptions(0, { scales:{
    x:{ type:"linear", display:false, min:0, max:30 }, y:{ type:"linear", display:false, min:0, max:17.3 } } })
});
new Chart(makeCtx(2016, 1478, 86, 759), {
  type:"scatter",
  data:{ datasets:mergeDatasets(rowMerges, false) },
  options:chartOptions(0, { scales:{
    x:{ type:"linear", display:false, min:0, max:7.7, reverse:true }, y:{ type:"linear", display:false, min:0, max:20, reverse:true } } })
});
new Chart(makeCtx(2105, 1448, 1141, 24), {
  type:"bar",
  data:{ labels:dCols, datasets:[{ data:dColGroup.map(() => 1), backgroundColor:dColGroup.map(g => pieColor[g]),
    barPercentage:1, categoryPercentage:1 }] },
  options:chartOptions(0, { scales:{
    x:{ display:false }, y:{ display:false, min:0, max:1 } } })
});
const heatAll = [...heatTop, ...heatBottom];
new Chart(makeCtx(2105, 1478, 1384, 895), {
  type:"bar",
  data:{ labels:dCols, datasets:heatAll.map((row,r) => ({
    label:dRows[r], data:row.map(() => 1), backgroundColor:row.map(heatColor),
    borderColor:"#FFFFFF", borderWidth:1, borderSkipped:false, barPercentage:1, categoryPercentage:1, stack:"h"
  })) },
  options:chartOptions({right:243, bottom:136}, {
    scales:{
      x:{ display:false, stacked:true },
      y:{ display:false, stacked:true, reverse:true, min:0, max:20 }
    }
  }),
  plugins:[{ id:"heatLabels", afterDraw(chart) {
    const ctx = chart.ctx, xs = chart.scales.x, ys = chart.scales.y;
    ctx.save();
    ctx.font = 'italic 16.5px "Liberation Sans Narrow","Liberation Sans"'; ctx.fillStyle = "#333"; ctx.textBaseline = "middle"; ctx.textAlign = "left";
    dRows.forEach((r,i) => ctx.fillText(r, chart.chartArea.right + 8, ys.getPixelForValue(i + .5) + 2));
    ctx.font = '18px "Liberation Sans"'; ctx.fillStyle = "#444"; ctx.textAlign = "right";
    dCols.forEach((c,i) => {
      ctx.save();
      ctx.translate(xs.getPixelForValue(i), chart.chartArea.bottom + 10);
      ctx.rotate(-Math.PI/2);
      ctx.fillText(c, 0, 0);
      ctx.restore();
    });
    ctx.restore();
  }}]
});
// colour key and group key
const keyBar = addBox(3421, 1493, 16, 145, "#fff");
keyBar.style.background = "linear-gradient(to bottom,#016860 0%,#F5F5F0 62%,#8C5109 100%)";
addText("2.17", 3446, 1498, 18, {family:'"Liberation Sans"', color:"#444"});
addText("0.00", 3446, 1566, 18, {family:'"Liberation Sans"', color:"#444"});
addText("-1.31", 3442, 1632, 18, {family:'"Liberation Sans"', color:"#444"});
addText("Group", 3512, 1471, 17, {family:'"Liberation Sans"', center:true, color:"#444"});
groupNames.forEach((g,i) => {
  addBox(3495, 1493 + i*29, 29, 29, pieColor[i]);
  addText(g, 3532, 1509 + i*29, 18, {family:'"Liberation Sans"', color:"#333"});
});
</script>
</body>
</html>
